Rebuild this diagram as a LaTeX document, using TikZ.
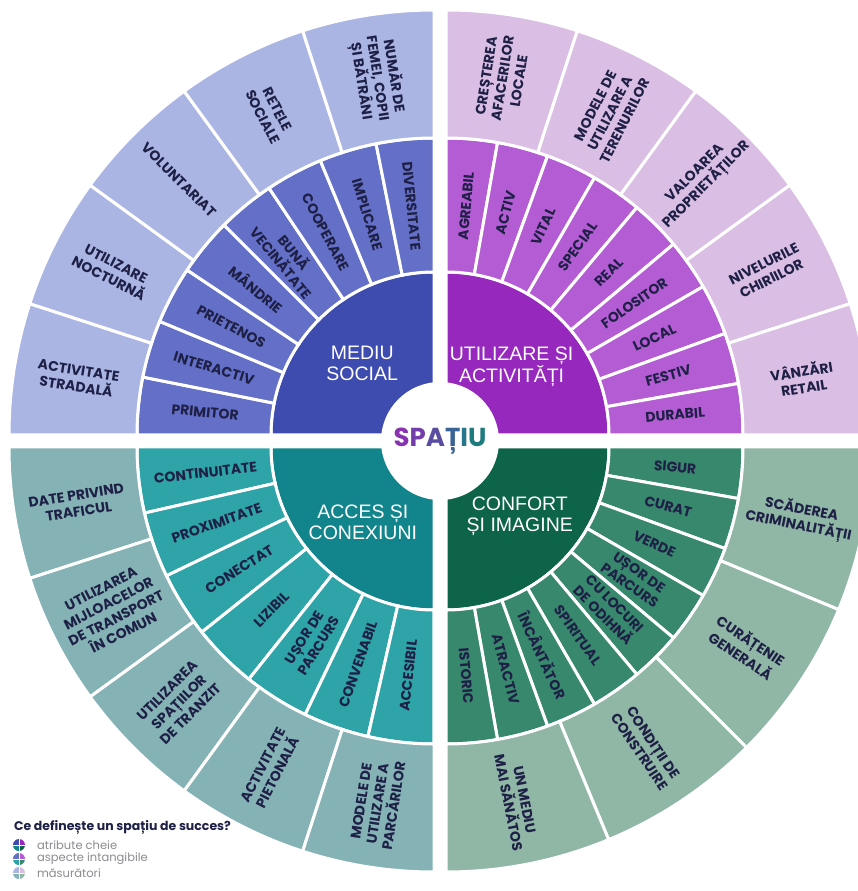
\documentclass[tikz,border=0pt]{standalone}
\usepackage{fontspec}
\setmainfont{Poppins}
\newfontfamily\hubfont{Liberation Sans}

\definecolor{txtNavy}{RGB}{30,32,70}
\definecolor{legGrey}{RGB}{140,140,145}
\definecolor{socHub}{RGB}{62,76,176}
\definecolor{socMid}{RGB}{100,112,200}
\definecolor{socOut}{RGB}{170,181,228}
\definecolor{actHub}{RGB}{150,40,190}
\definecolor{actMid}{RGB}{180,92,212}
\definecolor{actOut}{RGB}{218,190,228}
\definecolor{accHub}{RGB}{18,132,140}
\definecolor{accMid}{RGB}{46,163,168}
\definecolor{accOut}{RGB}{132,178,181}
\definecolor{conHub}{RGB}{14,100,72}
\definecolor{conMid}{RGB}{56,136,110}
\definecolor{conOut}{RGB}{144,182,166}

\tikzset{every picture/.style={line width=0.75pt},
  seglabel/.style={text=txtNavy, font=\fontsize{14}{16.5}\selectfont\bfseries, align=center, inner sep=0.75pt},
  hublabel/.style={text=white, font=\hubfont\fontsize{19.5}{21}\selectfont, align=center, inner sep=0.75pt},
  legtitle/.style={text=txtNavy, font=\fontsize{12.5}{14}\selectfont\bfseries, inner sep=0.75pt},
  legtext/.style={text=legGrey, font=\fontsize{11.5}{13}\selectfont, inner sep=0.75pt}}

% one piece of a ring: start, end, inner radius, outer radius, colour
\newcommand{\ringpart}[5]{%
  \filldraw[fill=#5, draw=white, line width=3pt] (#1:#3) arc[start angle=#1, end angle=#2, radius=#3]
    -- (#2:#4) arc[start angle=#2, end angle=#1, radius=#4] -- cycle;}

% a row of ring pieces with their labels: start, step, inner, outer, colour, text turn, labels, name
\newcommand{\ringrow}[8]{%
  \foreach \lab [count=\i] in {#7}{%
    \pgfmathsetmacro{\angA}{#1+(\i-1)*(#2)}%
    \pgfmathsetmacro{\angB}{#1+\i*(#2)}%
    \pgfmathsetmacro{\angM}{#1+(\i-0.5)*(#2)}%
    \pgfmathsetmacro{\radM}{(#3+#4)/2}%
    \ringpart{\angA}{\angB}{#3pt}{#4pt}{#5}%
    \node[seglabel, rotate=\angM+#6] (#8-\i) at (\angM:\radM pt) {\lab};}}

% small legend disc: position, four colours
\newcommand{\legdisc}[5]{%
  \begin{scope}[shift={(#1)}]
    \fill[#2] (0,0) -- (6pt,0) arc[start angle=0, end angle=90, radius=6pt] -- cycle;
    \fill[#3] (0,0) -- (0,6pt) arc[start angle=90, end angle=180, radius=6pt] -- cycle;
    \fill[#4] (0,0) -- (-6pt,0) arc[start angle=180, end angle=270, radius=6pt] -- cycle;
    \fill[#5] (0,0) -- (0,-6pt) arc[start angle=270, end angle=360, radius=6pt] -- cycle;
    \draw[white, line width=0.8pt] (-6pt,0) -- (6pt,0) (0,-6pt) -- (0,6pt);
  \end{scope}}

\begin{document}
\begin{tikzpicture}
\useasboundingbox (-440pt,-450pt) rectangle (418pt,441pt);
\clip (-440pt,-450pt) rectangle (418pt,441pt);
\fill[white] (-440pt,-450pt) rectangle (418pt,441pt);

%Shape: quadrant Mediu social
\begin{scope}[shift={(-6pt,6pt)}]
  \filldraw[fill=socHub, draw=white, line width=3pt] (0,0) -- (180:163pt) arc[start angle=180, end angle=90, radius=163pt] -- cycle;
  \ringrow{180}{-11.25}{163}{297}{socMid}{180}{PRIMITOR, INTERACTIV, PRIETENOS, MÂNDRIE, {BUNĂ\\VECINĂTATE}, COOPERARE, IMPLICARE, DIVERSITATE}{soc-mid}
  \ringrow{180}{-18}{297}{425}{socOut}{180}{{ACTIVITATE\\STRADALĂ}, {UTILIZARE\\NOCTURNĂ}, VOLUNTARIAT, {RETELE\\SOCIALE}, {NUMĂR DE\\FEMEI, COPII\\ȘI BĂTRÂNI}}{soc-out}
\end{scope}

%Shape: quadrant Utilizare si activitati
\begin{scope}[shift={(6pt,6pt)}]
  \filldraw[fill=actHub, draw=white, line width=3pt] (0,0) -- (90:163pt) arc[start angle=90, end angle=0, radius=163pt] -- cycle;
  \ringrow{90}{-10}{163}{297}{actMid}{0}{AGREABIL, ACTIV, VITAL, SPECIAL, REAL, FOLOSITOR, LOCAL, FESTIV, DURABIL}{act-mid}
  \ringrow{90}{-18}{297}{425}{actOut}{0}{{CREȘTEREA\\AFACERILOR\\LOCALE}, {MODELE DE\\UTILIZARE A\\TERENURILOR}, {VALOAREA\\PROPRIETĂȚILOR}, {NIVELURILE\\CHIRIILOR}, {VÂNZĂRI\\RETAIL}}{act-out}
\end{scope}

%Shape: quadrant Acces si conexiuni
\begin{scope}[shift={(-6pt,-6pt)}]
  \filldraw[fill=accHub, draw=white, line width=3pt] (0,0) -- (180:163pt) arc[start angle=180, end angle=270, radius=163pt] -- cycle;
  \ringrow{180}{12.857}{163}{297}{accMid}{180}{CONTINUITATE, PROXIMITATE, CONECTAT, LIZIBIL, {UȘOR DE\\PARCURS}, CONVENABIL, ACCESIBIL}{acc-mid}
  \ringrow{180}{18}{297}{425}{accOut}{180}{{DATE PRIVIND\\TRAFICUL}, {UTILIZAREA\\MIJLOACELOR\\DE TRANSPORT\\ÎN COMUN}, {UTILIZAREA\\SPAȚIILOR\\DE TRANZIT}, {ACTIVITATE\\PIETONALĂ}, {MODELE DE\\UTILIZARE A\\PARCĂRILOR}}{acc-out}
\end{scope}

%Shape: quadrant Confort si imagine
\begin{scope}[shift={(6pt,-6pt)}]
  \filldraw[fill=conHub, draw=white, line width=3pt] (0,0) -- (0:163pt) arc[start angle=0, end angle=-90, radius=163pt] -- cycle;
  \ringrow{0}{-10}{163}{297}{conMid}{0}{SIGUR, CURAT, VERDE, {UȘOR DE\\PARCURS}, {CU LOCURI\\DE ODIHNĂ}, SPIRITUAL, ÎNCÂNTĂTOR, ATRACTIV, ISTORIC}{con-mid}
  \ringrow{0}{-22.5}{297}{425}{conOut}{0}{{SCĂDEREA\\CRIMINALITĂȚII}, {CURĂȚENIE\\GENERALĂ}, {CONDIȚII DE\\CONSTRUIRE}, {UN MEDIU\\MAI SĂNĂTOS}}{con-out}
\end{scope}

% Text Node
\node[hublabel] (mediu) at (135:110pt) {MEDIU\\SOCIAL};
\node[hublabel] (utilizare) at (46:103pt) {UTILIZARE ȘI\\ACTIVITĂȚI};
\node[hublabel] (acces) at (226.5:112pt) {ACCES ȘI\\CONEXIUNI};
\node[hublabel] (confort) at (-43.5:110pt) {CONFORT\\ȘI IMAGINE};

% Text Node
\node[circle, fill=white, minimum size=118pt, inner sep=0pt, font=\fontsize{26}{28}\selectfont\bfseries] (spatiu) at (0,0)
  {\textcolor[RGB]{136,52,176}{S}\textcolor[RGB]{116,62,170}{P}\textcolor[RGB]{90,76,160}{A}\textcolor[RGB]{58,100,150}{Ț}\textcolor[RGB]{38,118,140}{I}\textcolor[RGB]{28,124,126}{U}};

% legend
\node[legtitle, anchor=west] (legend) at (-427pt,-386pt) {Ce definește un spațiu de succes?};
\legdisc{-421pt,-404pt}{actHub}{socHub}{accHub}{conHub}
\node[legtext, anchor=west] (leg-cheie) at (-404pt,-404pt) {atribute cheie};
\legdisc{-421pt,-418pt}{actMid}{socMid}{accMid}{conMid}
\node[legtext, anchor=west] (leg-intang) at (-404pt,-418pt) {aspecte intangibile};
\legdisc{-421pt,-432pt}{actOut}{socOut}{accOut}{conOut}
\node[legtext, anchor=west] (leg-masur) at (-404pt,-432pt) {măsurători};

\end{tikzpicture}
\end{document}
